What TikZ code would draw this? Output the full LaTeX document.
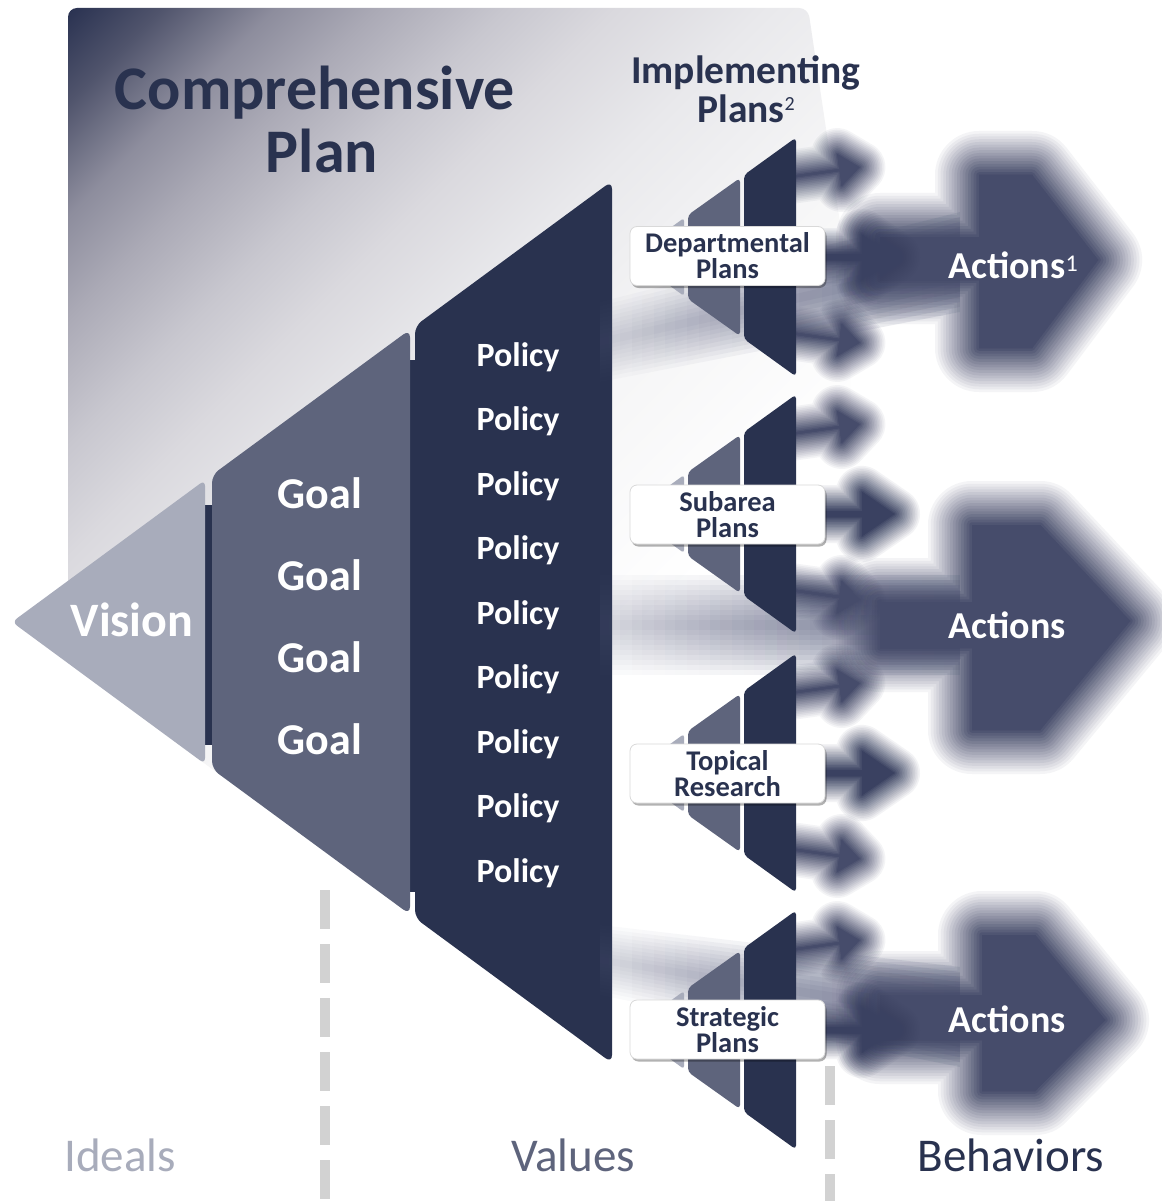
\documentclass[tikz,border=0pt]{standalone}
\usepackage{fontspec}
\setmainfont{Carlito}
\usetikzlibrary{shadows,fadings}
\definecolor{navy}{HTML}{29324F}
\definecolor{slate}{HTML}{5E647C}
\definecolor{mist}{HTML}{A8ACBB}
\definecolor{arrowc}{HTML}{464C6B}
\definecolor{arrowd}{HTML}{3A4161}
\definecolor{shaftc}{HTML}{5F6483}
\definecolor{dashc}{HTML}{D2D2D2}
\definecolor{pA}{HTML}{2B3352}
\definecolor{pB}{HTML}{50546C}
\definecolor{pC}{HTML}{8D8D9D}
\definecolor{pD}{HTML}{ABAAB6}
\definecolor{pE}{HTML}{C8C7CF}
\definecolor{pF}{HTML}{DAD9DE}
\definecolor{pG}{HTML}{E9E9EC}
\definecolor{pH}{HTML}{F5F5F6}
\pgfdeclarehorizontalshading{panelshade}{100bp}{color(0bp)=(pA); color(14.6bp)=(pA); color(17.8bp)=(pB); color(21.8bp)=(pC); color(25.5bp)=(pD); color(30bp)=(pE); color(34bp)=(pF); color(39.4bp)=(pG); color(46.5bp)=(pH); color(57bp)=(white); color(100bp)=(white)}
\tikzfading[name=fadeleft, left color=transparent!85, right color=transparent!0]
\newcommand{\setfs}[2]{\fontsize{#1}{#2}\selectfont}
% soft-edged fill: 16 dilated layers with linear opacity fall-off, solid core
\newcommand{\blurfill}[3]{%
  \foreach \k in {16,15,...,1}{%
    \pgfmathsetmacro{\a}{1/(\k+1)}%
    \filldraw[fill=#1, draw=#1, opacity=\a, line join=round, line width={\k*#2/8*1pt}] #3;}%
  \fill[#1] #3;}
\newcommand{\smallarr}[4]{%
  \begin{scope}[shift={(#1,#2)}, rotate=#3]
    \blurfill{#4}{26}{(0,-1) -- (50,-1) -- (50,-16) -- (70,0) -- (50,16) -- (50,1) -- (0,1) -- cycle}
  \end{scope}}
\newcommand{\midarr}[3]{%
  \begin{scope}[shift={(#1,#2)}]
    \blurfill{#3}{26}{(0,-3) -- (72,-3) -- (72,-22) -- (104,0) -- (72,22) -- (72,3) -- (0,3) -- cycle}
  \end{scope}}
\begin{document}
\begin{tikzpicture}[x=1pt, y=-1pt,
  txt/.style={inner sep=0pt, anchor=base},
  lbox/.style={fill=white, draw=black!15, line width=0.8pt, rounded corners=7pt,
    minimum width=195pt, minimum height=59pt, inner sep=0pt, align=center,
    text=navy, font=\bfseries\setfs{28.5}{26},
    drop shadow={shadow xshift=1.5pt, shadow yshift=-2.5pt, opacity=0.3, fill=black}},
  wbold/.style={txt, text=white, font=\bfseries\setfs{#1}{#1}},
]
\useasboundingbox (0,0) rectangle (1161,1201);
\fill[white] (0,0) rectangle (1161,1201);

% background panel
\begin{scope}
  \clip[rounded corners=9pt] (68,663) -- (68,8) -- (808,8) -- (850,290) -- (850,1063) -- (612,1063) -- cycle;
  \shade[shading=panelshade, shading angle=-45] (68,8) rectangle (1068,1008);
\end{scope}

% main triangle: vision, goals, policies
\fill[navy] (201,505) rectangle (214,745);
\fill[navy] (405,360) rectangle (417,892);
\fill[mist, rounded corners=6pt] (12,622) -- (205,480) -- (205,764) -- cycle;
\fill[slate, rounded corners=8pt] (212,475) -- (410,329.5) -- (410,914.5) -- (212,769) -- cycle;
\fill[navy, rounded corners=8pt] (415,326) -- (612,181) -- (612,1063) -- (415,918) -- cycle;

% faded shafts
\foreach \h in {50,45,...,5}{
  \fill[shaftc, path fading=fadeleft, opacity=0.15] (600,{342-\h*0.8}) -- (960,{262-\h}) -- (960,{262+\h}) -- (600,{342+\h*0.8}) -- cycle;
  \fill[shaftc, path fading=fadeleft, opacity=0.15] (600,{625-\h}) -- (960,{625-\h}) -- (960,{625+\h}) -- (600,{625+\h}) -- cycle;
  \fill[shaftc, path fading=fadeleft, opacity=0.15] (600,{960-\h*0.7}) -- (960,{1017-\h}) -- (960,{1017+\h}) -- (600,{960+\h*0.7}) -- cycle;
}

% big arrows
\blurfill{arrowc}{44}{(880,237) -- (979,237) -- (979,175) -- (1032,175) -- (1098,260) -- (1032,348) -- (979,348) -- (979,280) -- (880,280) -- cycle}
\blurfill{arrowc}{44}{(880,602) -- (972,602) -- (972,525) -- (1040,525) -- (1130,621) -- (1040,730) -- (972,730) -- (972,648) -- (880,648) -- cycle}
\blurfill{arrowc}{44}{(880,995) -- (982,995) -- (982,935) -- (1035,935) -- (1105,1020) -- (1035,1091) -- (982,1091) -- (982,1040) -- (880,1040) -- cycle}

% small arrows
\foreach \c in {257,514,773}{
  \smallarr{790}{\c-80}{8}{arrowc}
  \smallarr{790}{\c+76}{-8}{arrowc}
  \midarr{790}{\c}{arrowd}
}
\smallarr{790}{1030-80}{8}{arrowc}
\midarr{790}{1030}{arrowd}

% implementing plan groups
\foreach \c in {257,514,773,1030}{
  \fill[mist, rounded corners=3pt] (630,\c) -- (684,{\c-39}) -- (684,{\c+39}) -- cycle;
  \fill[slate, rounded corners=4pt] (688,{\c-42}) -- (740,{\c-79}) -- (740,{\c+79}) -- (688,{\c+42}) -- cycle;
  \fill[navy, rounded corners=4pt] (744,{\c-82}) -- (796,{\c-119.5}) -- (796,{\c+119.5}) -- (744,{\c+82}) -- cycle;
}

% labels
\node[lbox] (lb1) at (727.5,256) {Departmental\\Plans};
\node[lbox] (lb2) at (727.5,514.5) {Subarea\\Plans};
\node[lbox] (lb3) at (727.5,773.5) {Topical\\Research};
\node[lbox] (lb4) at (727.5,1029.5) {Strategic\\Plans};

% dashed dividers
\draw[dashc, line width=10pt, dash pattern=on 39pt off 15pt] (325,890) -- (325,1201);
\draw[dashc, line width=10pt, dash pattern=on 39pt off 15pt] (830,1066) -- (830,1201);

% texts
\node[txt, text=navy, font=\bfseries\setfs{62}{62}] (ct1) at (315,110) {Comprehensive};
\node[txt, text=navy, font=\bfseries\setfs{62}{62}] (ct2) at (322,172) {Plan};
\node[txt, text=navy, font=\bfseries\setfs{39.5}{39.5}] (ip1) at (746,84) {Implementing};
\node[txt, text=navy, font=\bfseries\setfs{39.5}{39.5}] (ip2) at (746,123) {Plans\raisebox{12pt}{\mdseries\setfs{20}{20}2}};
\node[wbold=48] (vis) at (132,636) {Vision};
\foreach \i in {0,...,3}{\node[wbold=44] (goal\i) at (320,{508+82.3*\i}) {Goal};}
\foreach \i in {0,...,8}{\node[wbold=34] (pol\i) at (518,{366+64.5*\i}) {Policy};}
\node[wbold=38] (act1) at (1013,278) {Actions\raisebox{7pt}{\mdseries\setfs{24}{24}1}};
\node[wbold=38] (act2) at (1007,638) {Actions};
\node[wbold=38] (act3) at (1007,1032) {Actions};
\node[txt, text=mist, font=\setfs{47}{47}] (ideals) at (120,1171) {Ideals};
\node[txt, text=slate, font=\setfs{47}{47}] (values) at (573,1171) {Values};
\node[txt, text=navy, font=\setfs{47}{47}] (behav) at (1011,1171) {Behaviors};
\end{tikzpicture}
\end{document}
